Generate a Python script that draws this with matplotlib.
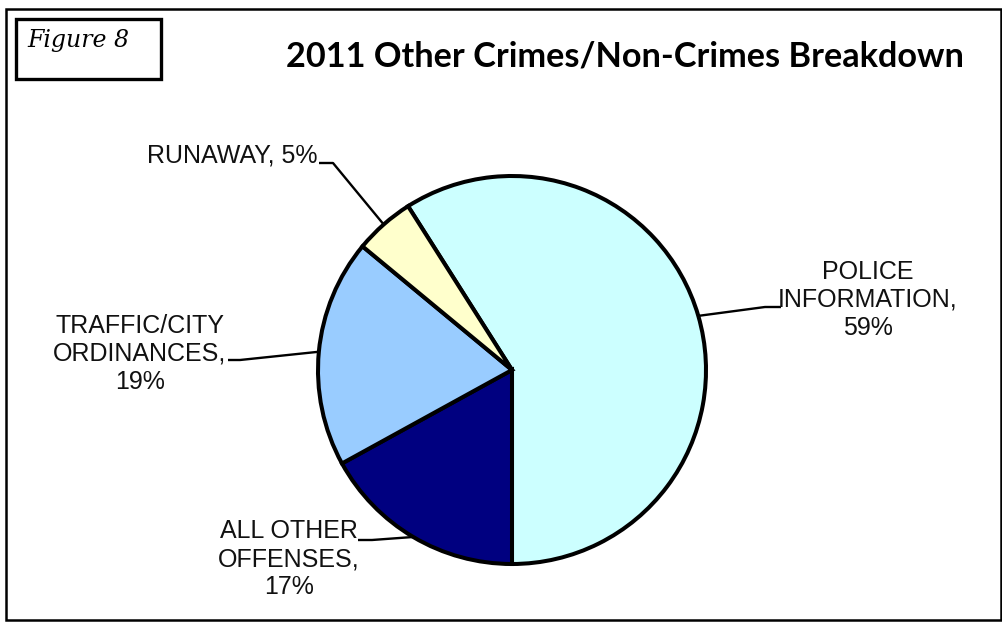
"""
2011 other crimes / non-crimes breakdown pie.
"""
import numpy as np
import matplotlib
matplotlib.use('Agg')
import matplotlib.pyplot as plt
from matplotlib.patches import Rectangle

W, H = 1003, 624

categories = ['POLICE\nINFORMATION,\n59%', 'ALL OTHER\nOFFENSES,\n17%',
              'TRAFFIC/CITY\nORDINANCES,\n19%', 'RUNAWAY, 5%']
shares = [59, 17, 19, 5]
colors = ['#CCFFFF', '#000080', '#99CCFF', '#FFFFCC']

# label block centres and the elbow of each leader line (pixels from top-left)
label_pos = [(868, 300), (289, 559), (140, 354), (232, 156)]
leader_start = [(781, 307), (358, 540), (228, 360), (319, 163)]
leader_elbow = [(765, 307), (372, 540), (240, 360), (333, 163)]


def flip(y):
    return H - y


fig = plt.figure(figsize=(W / 100, H / 100), dpi=100)
ax = fig.add_axes([0, 0, 1, 1])

cx, cy, r = 512, flip(370), 194
wedges, _ = ax.pie(shares, colors=colors, startangle=122.4, counterclock=False,
                   center=(cx, cy), radius=r,
                   wedgeprops=dict(edgecolor='black', linewidth=2.9))
ax.set_xlim(0, W)
ax.set_ylim(0, H)
ax.set_aspect('auto')
ax.axis('off')

for w, lab, (lx, ly), (sx, sy), (ex, ey) in zip(wedges, categories, label_pos,
                                                leader_start, leader_elbow):
    mid = np.deg2rad((w.theta1 + w.theta2) / 2)
    px, py = cx + r * np.cos(mid), cy + r * np.sin(mid)
    ax.plot([sx, ex, px], [flip(sy), flip(ey), py], color='black', lw=1.7,
            solid_capstyle='butt', zorder=3)
    ax.text(lx, flip(ly), lab, ha='center', va='center', fontsize=18,
            family='Liberation Sans', linespacing=1.22, color='#111111')

# outer frame and the figure tag box
ax.add_patch(Rectangle((6, flip(620)), 995, 611, fill=False, ec='black', lw=1.8,
                       clip_on=False))
ax.add_patch(Rectangle((16, flip(79)), 145, 60, fill=False, ec='black', lw=2.4,
                       clip_on=False))
ax.text(27, flip(47), 'Figure 8', ha='left', va='baseline', fontsize=17,
        family='DejaVu Serif', style='italic')

ax.text(625, flip(57), '2011 Other Crimes/Non-Crimes Breakdown', ha='center',
        va='center', fontsize=24.7, family='Lato', fontweight='bold')

fig.savefig('out.png', dpi=100)
